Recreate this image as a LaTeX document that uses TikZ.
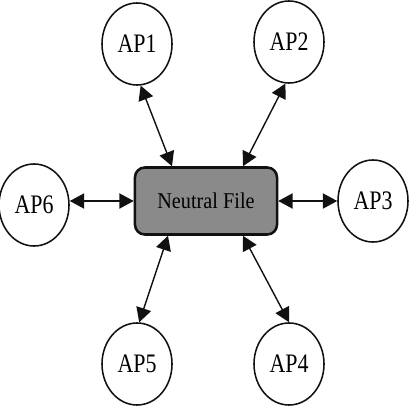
\documentclass[tikz,border=0pt]{standalone}
\usepackage{fontspec}
\setmainfont{Liberation Serif}
\usepackage{tikz}
\usetikzlibrary{arrows.meta,calc,shapes.geometric}
\definecolor{ink}{HTML}{111111}
\definecolor{shade}{HTML}{8A8A8A}
\newcommand{\narrowtext}[2]{\scalebox{#1}[1]{#2}}

\begin{document}
\begin{tikzpicture}[x=0.025cm,y=-0.025cm,>={Triangle[length=3.6mm,width=3.8mm]},
    ap/.style={ellipse,draw=ink,line width=1.1pt,inner sep=0pt,
               minimum width=1.75cm,minimum height=2.05cm,
               font=\fontsize{19}{22}\selectfont},
    link/.style={<->,draw=ink,line width=1pt}]
  \useasboundingbox (0,0) rectangle (413,412);

  % central file
  \node[rectangle,rounded corners=7pt,draw=ink,line width=1.8pt,fill=shade,
        minimum width=3.55cm,minimum height=1.675cm,
        font=\fontsize{16}{19}\selectfont] (nf) at (206,201)
        {\narrowtext{0.9}{Neutral File}};

  % application programs
  \node[ap] (ap1) at (137,44)  {\narrowtext{0.82}{AP1}};
  \node[ap] (ap2) at (289,42)  {\narrowtext{0.82}{AP2}};
  \node[ap] (ap3) at (373,201) {\narrowtext{0.82}{AP3}};
  \node[ap] (ap4) at (289,364) {\narrowtext{0.82}{AP4}};
  \node[ap] (ap5) at (137,364) {\narrowtext{0.82}{AP5}};
  \node[ap] (ap6) at (34,205)  {\narrowtext{0.82}{AP6}};

  % exchange links
  \draw[link] (ap1.-85) -- ($(nf.north)+(-34,0)$);
  \draw[link] (ap2.-95) -- ($(nf.north)+(37,0)$);
  \draw[link] (ap3.west) -- (nf.east);
  \draw[link] (ap4.north) -- ($(nf.south)+(37,0)$);
  \draw[link] (ap5.87) -- ($(nf.south)+(-38,0)$);
  \draw[link] (ap6.east |- nf.west) -- (nf.west);
\end{tikzpicture}
\end{document}
